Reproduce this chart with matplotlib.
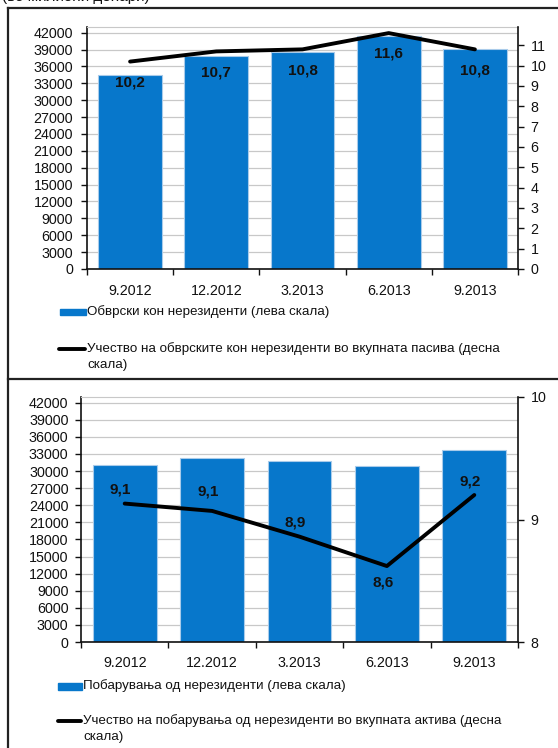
import matplotlib.pyplot as plt
from matplotlib.lines import Line2D
from matplotlib.patches import Rectangle

plt.rcParams['font.family'] = ['Liberation Sans', 'DejaVu Sans']

# ---- data -------------------------------------------------------------
periods = ['9.2012', '12.2012', '3.2013', '6.2013', '9.2013']

liab = [34500, 37900, 38600, 41400, 39150]          # left scale
liab_share = [10.2, 10.7, 10.8, 11.6, 10.8]         # right scale

claims = [31050, 32250, 31750, 30900, 33650]        # left scale
claims_share = [9.13, 9.07, 8.86, 8.62, 9.20]       # right scale

liab_lbl = 'Обврски кон нерезиденти (лева скала)'
liab_share_lbl = 'Учество на обврските кон нерезиденти во вкупната пасива (десна\nскала)'
claims_lbl = 'Побарувања од нерезиденти (лева скала)'
claims_share_lbl = 'Учество на побарувања од нерезиденти во вкупната актива (десна\nскала)'

BLUE = '#0777CB'
EDGE = '#A9CBEA'
TXT = '#111111'
W, H = 558, 748
TICK_FS = 10.3


def px(x, y):
    return x / W, 1 - y / H


fig = plt.figure(figsize=(W / 100, H / 100), dpi=100)


def panel(rect, bars, share, ylim2, yticks2, width, lab_off, lab_dx, ypad, rpad, xpad):
    ax = fig.add_axes(rect)
    x = list(range(len(periods)))
    ax.bar(x, bars, width=width, color=BLUE, edgecolor=EDGE, linewidth=0.8, zorder=2)
    ax.set_xlim(-0.5, len(periods) - 0.5)
    ax.set_ylim(0, 43000)
    ax.set_yticks(range(0, 42001, 3000))
    ax.grid(axis='y', color='#c8c8c8', linewidth=0.9, zorder=0)
    ax.set_axisbelow(True)
    ax.set_xticks([i - 0.5 for i in range(len(periods) + 1)])
    ax.set_xticklabels([])
    ax.set_xticks(x, minor=True)
    ax.set_xticklabels(periods, minor=True)
    ax.tick_params(axis='x', which='major', length=4, width=1, color=TXT, direction='out')
    ax.tick_params(axis='x', which='minor', length=0, pad=xpad, labelsize=TICK_FS, labelcolor=TXT)
    ax.tick_params(axis='y', length=4, width=1, color=TXT, pad=ypad, labelsize=TICK_FS, labelcolor=TXT)
    for s in ['left', 'bottom']:
        ax.spines[s].set_color(TXT)
        ax.spines[s].set_linewidth(1.2)
    ax.spines['top'].set_color('#c8c8c8')
    ax.spines['right'].set_visible(False)

    ax2 = ax.twinx()
    ax2.plot(x, share, color='black', linewidth=2.8, solid_capstyle='round', zorder=3)
    ax2.set_ylim(*ylim2)
    ax2.set_yticks(yticks2)
    ax2.tick_params(axis='y', length=4, width=1, color=TXT, pad=rpad, labelsize=TICK_FS, labelcolor=TXT)
    for s in ['left', 'top', 'bottom']:
        ax2.spines[s].set_visible(False)
    ax2.spines['right'].set_color(TXT)
    ax2.spines['right'].set_linewidth(1.2)
    for i, v in enumerate(share):
        ax2.annotate(f'{v:.1f}'.replace('.', ','), (i, v), xytext=(lab_dx, lab_off[i]),
                     textcoords='offset points', ha='center', va='center',
                     fontsize=11, fontweight='bold', color=TXT)
    return ax, ax2


# top panel
panel([87 / W, 1 - 269 / H, 431 / W, 242 / H], liab, liab_share,
      (0, 11.9), range(0, 12), 0.74, [-15] * 5, 0, 6, 5, 10.5)

# bottom panel
panel([81 / W, 1 - 642 / H, 437 / W, 245 / H], claims, claims_share,
      (8, 10), [8, 9, 10], 0.73, [10, 14, 10, -12, 10], -3, 5, 5, 10)

# ---- frame lines ------------------------------------------------------
for (x0, y0), (x1, y1) in [((8, 8), (W, 8)), ((8, 8), (8, H)), ((8, 379), (W, 379))]:
    a, b = px(x0, y0)
    c, d = px(x1, y1)
    fig.add_artist(Line2D([a, c], [b, d], color='#222222', linewidth=1.6,
                          transform=fig.transFigure))

# heading cut off at the very top (only its lower edge is visible)
fig.text(*px(2, 1.5), '(во милиони денари)', fontsize=11, va='baseline', ha='left', color=TXT)

# ---- legends ----------------------------------------------------------
LEG_FS = 9.6


def legend_patch(x0, x1, yc, h, txt, tx):
    a, b = px(x0, yc + h / 2)
    fig.add_artist(Rectangle((a, b), (x1 - x0) / W, h / H, color=BLUE,
                             transform=fig.transFigure))
    fig.text(*px(tx, yc), txt, fontsize=LEG_FS, va='center', ha='left', color=TXT)


def legend_line(x0, x1, yc, txt, tx):
    a, b = px(x0, yc)
    c, _ = px(x1, yc)
    fig.add_artist(Line2D([a, c], [b, b], color='black', linewidth=2.8,
                          solid_capstyle='round', transform=fig.transFigure))
    fig.text(*px(tx, yc - 6.5), txt, fontsize=LEG_FS, va='top', ha='left',
             linespacing=1.4, color=TXT)


legend_patch(60, 86, 312, 6, liab_lbl, 87)
legend_line(59, 85, 349, liab_share_lbl, 87)
legend_patch(58, 82, 686, 7, claims_lbl, 83)
legend_line(58, 81, 721, claims_share_lbl, 83)

fig.savefig('out.png', dpi=100)
